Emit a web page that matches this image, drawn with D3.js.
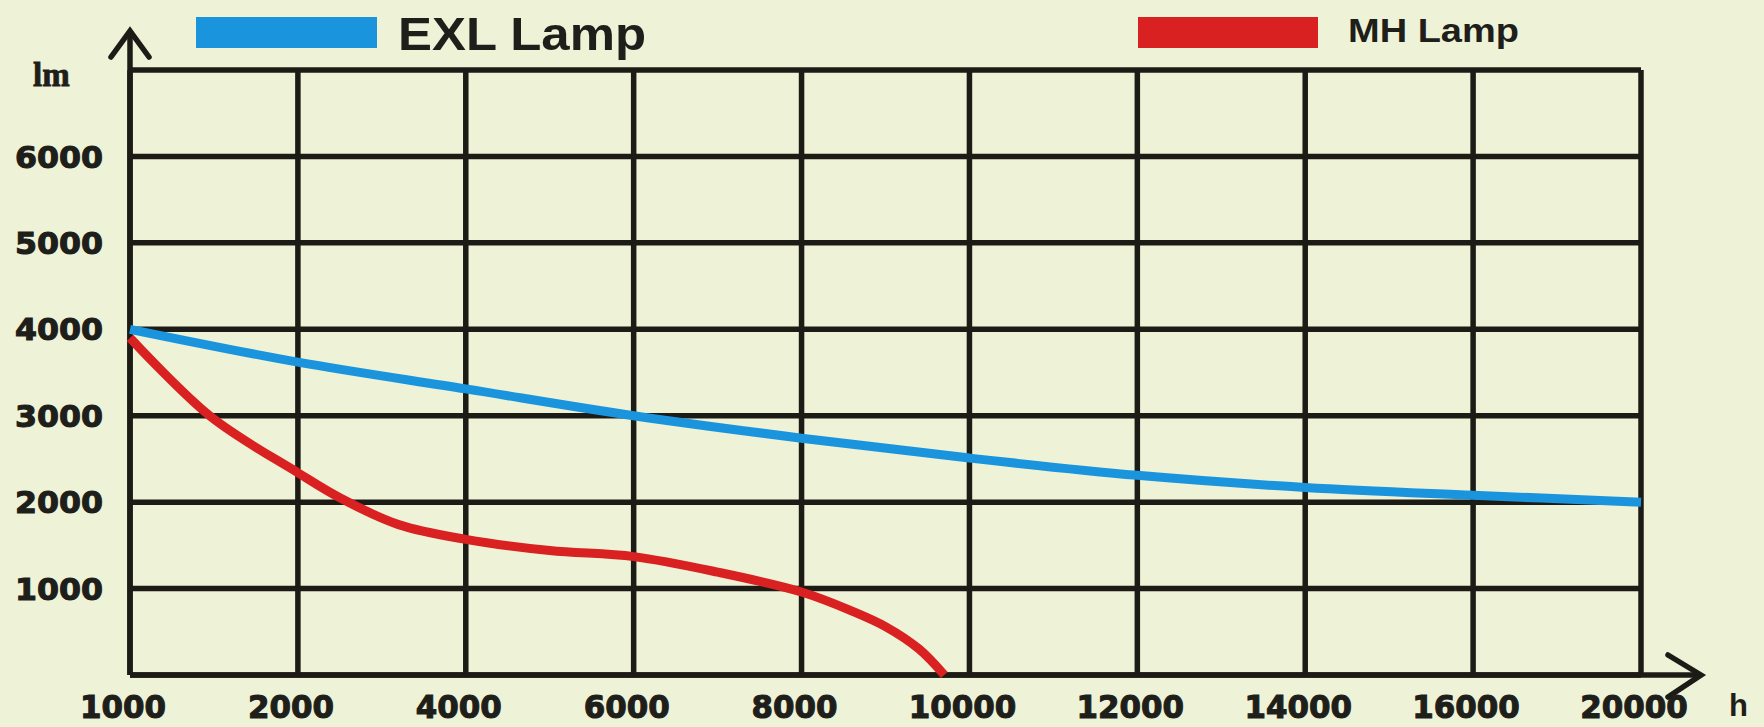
<!DOCTYPE html>
<html>
<head>
<meta charset="utf-8">
<script src="https://cdn.jsdelivr.net/npm/d3@7"></script>
<style>
  html, body { margin: 0; padding: 0; background: #eef2d6; }
  svg { display: block; }
</style>
</head>
<body>
<svg id="chart" width="1764" height="727"></svg>
<script>
// ---- data ----
const xTicks = [1000, 2000, 4000, 6000, 8000, 10000, 12000, 14000, 16000, 20000];
const yGrid = [0, 1000, 2000, 3000, 4000, 5000, 6000, 7000];
const yLabels = [1000, 2000, 3000, 4000, 5000, 6000];
const seriesNames = ["EXL Lamp", "MH Lamp"];
const exlHours = [1000, 2000, 4000, 6000, 8000, 10000, 12000, 14000, 16000, 20000];
const exlLumens = [4000, 3620, 3310, 3000, 2740, 2510, 2310, 2170, 2080, 2000];
const mhHours = [1000, 1480, 2000, 2500, 3200, 4000, 5000, 6000, 7000, 8000, 8600, 9000, 9400, 9700];
const mhLumens = [3900, 2990, 2340, 2050, 1740, 1570, 1440, 1370, 1190, 960, 740, 560, 300, 0];
const yUnit = "lm";
const xUnit = "h";

(function () {
// ---- layout ----
const pLeft = 130, pRight = 1641, pTop = 70, pBottom = 675;
const svg = d3.select("#chart");
const gridColor = "#1c1b16";
const textColor = "#1e1e1a";
const colors = ["#1a95dd", "#d92121"];

const step = (pRight - pLeft) / (xTicks.length - 1);
const x = d3.scaleLinear()
  .domain(xTicks)
  .range(xTicks.map((d, i) => pLeft + i * step));
const y = d3.scaleLinear().domain([0, 7000]).range([pBottom, pTop]);

// horizontal grid
svg.append("g").selectAll("line").data(yGrid).join("line")
  .attr("x1", pLeft).attr("x2", pRight)
  .attr("y1", d => y(d)).attr("y2", d => y(d))
  .attr("stroke", gridColor).attr("stroke-width", 5.5);

// vertical grid
svg.append("g").selectAll("line").data(xTicks).join("line")
  .attr("x1", d => x(d)).attr("x2", d => x(d))
  .attr("y1", y(0)).attr("y2", y(7000))
  .attr("stroke", gridColor).attr("stroke-width", 5.5);

// axis lines with arrows
svg.append("line")
  .attr("x1", pLeft).attr("x2", pLeft).attr("y1", y(0)).attr("y2", 31)
  .attr("stroke", gridColor).attr("stroke-width", 5.5);
svg.append("line")
  .attr("x1", pLeft).attr("x2", 1700).attr("y1", y(0)).attr("y2", y(0))
  .attr("stroke", gridColor).attr("stroke-width", 5.5);
svg.append("path")
  .attr("d", `M${pLeft - 19},57 L${pLeft},31 L${pLeft + 19},57`)
  .attr("fill", "none").attr("stroke", gridColor).attr("stroke-width", 5.5)
  .attr("stroke-linecap", "round").attr("stroke-linejoin", "miter");
svg.append("path")
  .attr("d", `M1668,${y(0) - 20} L1701,${y(0)} L1668,${y(0) + 22}`)
  .attr("fill", "none").attr("stroke", gridColor).attr("stroke-width", 5.5)
  .attr("stroke-linecap", "round").attr("stroke-linejoin", "miter");

// x tick labels
svg.append("g").selectAll("text").data(xTicks).join("text")
  .attr("x", d => x(d) - 7)
  .attr("y", 718)
  .attr("text-anchor", "middle")
  .attr("font-family", "DejaVu Sans")
  .attr("font-weight", "bold")
  .attr("font-size", 32)
  .attr("fill", textColor)
  .attr("stroke", textColor).attr("stroke-width", 1.1)
  .attr("textLength", d => String(d).length * 21.5)
  .attr("lengthAdjust", "spacingAndGlyphs")
  .text(d => d);

// y tick labels
svg.append("g").selectAll("text").data(yLabels).join("text")
  .attr("x", 103)
  .attr("y", d => y(d))
  .attr("dy", "0.36em")
  .attr("text-anchor", "end")
  .attr("font-family", "DejaVu Sans")
  .attr("font-weight", "bold")
  .attr("font-size", 31)
  .attr("fill", textColor)
  .attr("stroke", textColor).attr("stroke-width", 1.1)
  .attr("textLength", 88)
  .attr("lengthAdjust", "spacingAndGlyphs")
  .text(d => d);

// unit labels
svg.append("text")
  .attr("x", 33).attr("y", 86)
  .attr("font-family", "Liberation Serif")
  .attr("font-weight", "bold")
  .attr("font-size", 33)
  .attr("fill", textColor)
  .attr("stroke", textColor).attr("stroke-width", 0.8)
  .text(yUnit);
svg.append("text")
  .attr("x", 1729).attr("y", 716)
  .attr("font-family", "Liberation Sans")
  .attr("font-weight", "bold")
  .attr("font-size", 31)
  .attr("fill", textColor)
  .text(xUnit);

// curves
const line = d3.line()
  .x(d => x(d[0]))
  .y(d => y(d[1]))
  .curve(d3.curveCatmullRom.alpha(0.5));

const exl = exlHours.map((h, i) => [h, exlLumens[i]]);
const mh = mhHours.map((h, i) => [h, mhLumens[i]]);

svg.append("path").datum(mh)
  .attr("d", line)
  .attr("fill", "none").attr("stroke", colors[1]).attr("stroke-width", 9)
  .attr("stroke-linecap", "butt");
svg.append("path").datum(exl)
  .attr("d", line)
  .attr("fill", "none").attr("stroke", colors[0]).attr("stroke-width", 9)
  .attr("stroke-linecap", "butt");

// legend
const legend = [
  { name: seriesNames[0], rx: 196, rw: 181, tx: 398, size: 47, len: 248, base: 50 },
  { name: seriesNames[1], rx: 1138, rw: 180, tx: 1348, size: 34, len: 171, base: 42 }
];
legend.forEach((l, i) => {
  svg.append("rect")
    .attr("x", l.rx).attr("y", 17).attr("width", l.rw).attr("height", 31)
    .attr("fill", colors[i]);
  svg.append("text")
    .attr("x", l.tx).attr("y", l.base)
    .attr("font-family", "Liberation Sans")
    .attr("font-weight", "bold")
    .attr("font-size", l.size)
    .attr("fill", textColor)
    .attr("textLength", l.len)
    .attr("lengthAdjust", "spacingAndGlyphs")
    .text(l.name);
});
})();
</script>
</body>
</html>
